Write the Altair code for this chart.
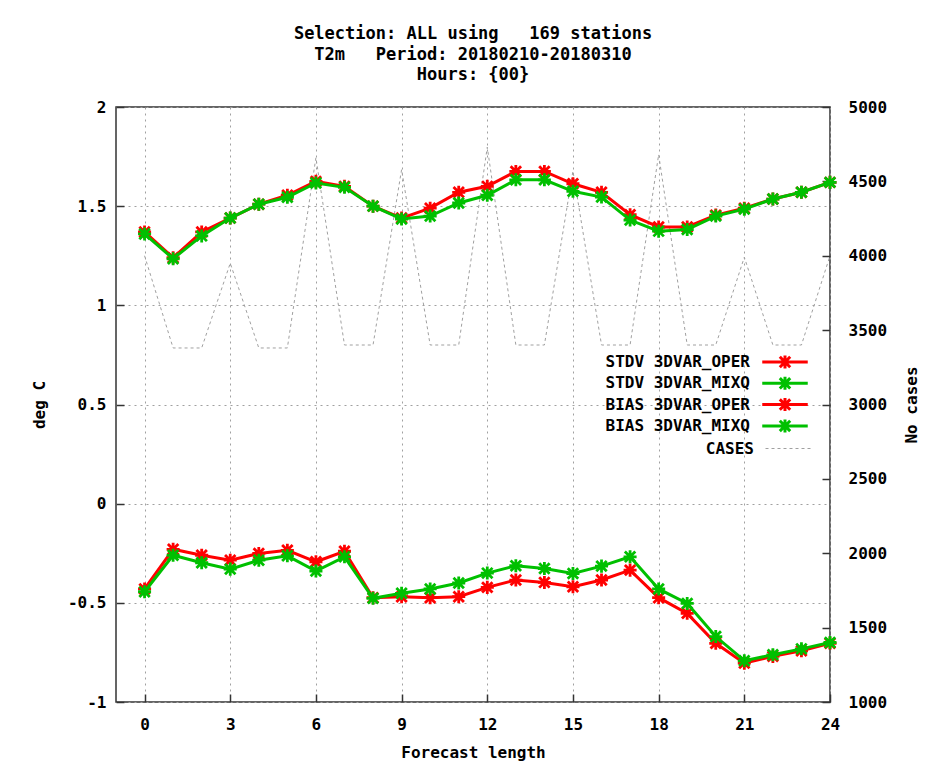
import altair as alt
import pandas as pd

# Forecast length (hours)
hours = list(range(25))

# Standard deviation of T2m error (deg C)
stdv_oper = [1.37, 1.24, 1.37, 1.44, 1.51, 1.555, 1.625, 1.60, 1.50, 1.44, 1.49, 1.57, 1.60,
             1.675, 1.675, 1.613, 1.57, 1.457, 1.395, 1.395, 1.455, 1.49, 1.536, 1.57, 1.62]
stdv_mixq = [1.36, 1.235, 1.35, 1.44, 1.51, 1.545, 1.617, 1.595, 1.50, 1.435, 1.45, 1.516, 1.555,
             1.633, 1.633, 1.575, 1.546, 1.43, 1.374, 1.382, 1.45, 1.485, 1.536, 1.57, 1.62]

# Bias of T2m error (deg C)
bias_oper = [-0.43, -0.23, -0.26, -0.285, -0.251, -0.235, -0.293, -0.24, -0.474, -0.469, -0.474, -0.469, -0.422,
             -0.385, -0.397, -0.419, -0.385, -0.335, -0.474, -0.553, -0.704, -0.804, -0.77, -0.742, -0.704]
bias_mixq = [-0.444, -0.26, -0.298, -0.33, -0.285, -0.263, -0.34, -0.268, -0.477, -0.452, -0.43, -0.40, -0.35,
             -0.313, -0.327, -0.352, -0.315, -0.268, -0.43, -0.503, -0.67, -0.792, -0.762, -0.732, -0.70]

# Number of cases per forecast length
cases = [4000, 3380, 3380, 3950, 3380, 3380, 4660, 3400, 3400, 4580, 3400, 3400, 4730,
         3400, 3400, 4570, 3400, 3400, 4680, 3400, 3400, 3990, 3400, 3400, 4000]

series_names = ["STDV 3DVAR_OPER", "STDV 3DVAR_MIXQ", "BIAS 3DVAR_OPER", "BIAS 3DVAR_MIXQ"]
series_colors = ["#ff0000", "#00c000", "#ff0000", "#00c000"]
series_values = [stdv_oper, stdv_mixq, bias_oper, bias_mixq]

x_ticks = list(range(0, 25, 3))
y_ticks = [-1, -0.5, 0, 0.5, 1, 1.5, 2]
y2_ticks = list(range(1000, 5001, 500))

# non-breaking spaces keep the runs of blanks in the heading
NB = "\u00a0"
title_lines = [f"Selection: ALL using{NB * 3}169 stations",
               f"T2m{NB * 3}Period: 20180210-20180310",
               "Hours: {00}"]

FONT = "DejaVu Sans Mono"
GRID = "#a0a0a0"
FRAME = "#333333"
TICK = 8  # inward tick length

# gnuplot-style asterisk point, and the same with a line through it for the key
STAR = "M-1,0H1M0,-1V1M-0.8,-0.8L0.8,0.8M-0.8,0.8L0.8,-0.8"
KEY_STAR = "M-3.5,0H3.5M0,-1V1M-0.8,-0.8L0.8,0.8M-0.8,0.8L0.8,-0.8"

frames = []
for name, vals in zip(series_names, series_values):
    frames.append(pd.DataFrame({"hour": hours, "value": vals, "series": name}))
df = pd.concat(frames, ignore_index=True)

cases_df = pd.DataFrame({"hour": hours, "cases": cases, "kind": "CASES"})

x_scale = alt.Scale(domain=[-1, 24], nice=False, zero=False)
y_scale = alt.Scale(domain=[-1, 2], nice=False, zero=False)

text_style = dict(labelFont=FONT, labelFontWeight="bold", labelFontSize=16, labelColor="black",
                  titleFont=FONT, titleFontWeight="bold", titleFontSize=16, titleColor="black")
# axes pulled inside the frame by the tick length, so the ticks point inward
tick_style = dict(ticks=True, tickSize=TICK, tickColor=FRAME, tickWidth=1.5,
                  offset=-TICK, domain=False, labelFlush=False)

color = alt.Color(
    "series:N",
    scale=alt.Scale(domain=series_names, range=series_colors),
    legend=alt.Legend(
        title=None, orient="none", legendX=661, legendY=247,
        symbolType=KEY_STAR, symbolSize=169, symbolStrokeWidth=3,
        symbolFillColor="transparent",
        labelAlign="right", labelOffset=alt.ExprRef("-43"),
        labelFont=FONT, labelFontWeight="bold", labelFontSize=16, labelColor="black",
        rowPadding=alt.ExprRef("-4.7"), padding=0,
    ),
)

x_axis = alt.Axis(
    values=x_ticks, title="Forecast length",
    grid=True, gridColor=GRID, gridDash=[2, 4], gridWidth=1,
    labelPadding=14, titlePadding=12, **tick_style, **text_style,
)

y_axis = alt.Axis(
    values=y_ticks, title="deg C", labelExpr="toString(datum.value)",
    grid=True, gridColor=GRID, gridDash=[2, 4], gridWidth=1,
    labelPadding=10, titlePadding=20, **tick_style, **text_style,
)

series_layers = []
for name in series_names:
    base = alt.Chart(df).transform_filter(alt.datum.series == name).encode(
        x=alt.X("hour:Q", scale=x_scale, axis=x_axis),
        y=alt.Y("value:Q", scale=y_scale, axis=y_axis),
        color=color,
    )
    series_layers.append(base.mark_line(strokeWidth=3))
    series_layers.append(base.mark_point(shape=STAR, filled=False, size=170, strokeWidth=2.8, opacity=1))

main = alt.layer(*series_layers)

cases_line = alt.Chart(cases_df).mark_line(strokeWidth=1, color=GRID).encode(
    x=alt.X("hour:Q", scale=x_scale, axis=x_axis),
    y=alt.Y("cases:Q", scale=alt.Scale(domain=[1000, 5000], nice=False, zero=False),
            axis=alt.Axis(
                orient="right", values=y2_ticks, title="No cases", format="d",
                grid=False, labelPadding=18, titleAngle=270, titlePadding=33,
                **tick_style, **text_style,
            )),
    strokeDash=alt.StrokeDash(
        "kind:N",
        scale=alt.Scale(domain=["CASES"], range=[[3, 3]]),
        legend=alt.Legend(
            title=None, orient="none", legendX=649, legendY=318,
            symbolType="stroke", symbolSize=2116, symbolStrokeWidth=1,
            symbolStrokeColor=GRID, labelAlign="right", labelOffset=alt.ExprRef("-58"),
            labelFont=FONT, labelFontWeight="bold", labelFontSize=16, labelColor="black",
            padding=0,
        ),
    ),
)

chart = alt.layer(cases_line, main).resolve_scale(
    y="independent", color="independent", strokeDash="independent"
).properties(
    width=714, height=595,
    padding={"left": 116, "top": 107, "right": 109, "bottom": 64},
    autosize=alt.AutoSizeParams(type="none"),
    background="white",
    title=alt.TitleParams(
        text=title_lines, anchor="middle", fontSize=17, font=FONT, fontWeight="bold",
        color="black", lineHeight=20.5, offset=15,
    ),
).configure_view(
    stroke=FRAME, strokeWidth=1.5
)

chart.save("out.html", embed_options={"renderer": "svg", "actions": False})
